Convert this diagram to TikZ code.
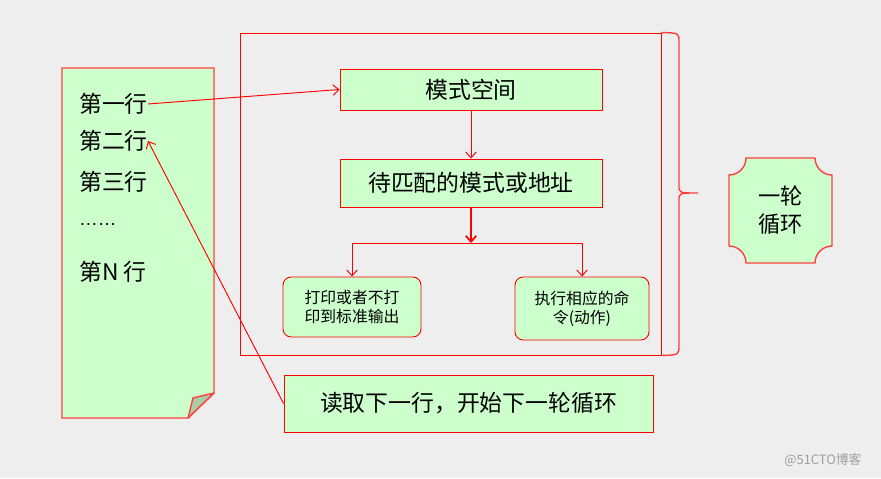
\documentclass[tikz,border=0pt]{standalone}
\usepackage{fontspec}
\setmainfont{Noto Sans CJK SC}
\newfontfamily\latinfont{Liberation Sans}
\usetikzlibrary{arrows.meta}
\definecolor{bgray}{HTML}{EEEEEE}
\definecolor{boxgreen}{HTML}{CCFFCC}
\definecolor{foldgreen}{HTML}{A9CDA5}
\definecolor{softred}{HTML}{FF4040}

\begin{document}
\begin{tikzpicture}[x=0.03cm, y=0.03cm, font=\fontsize{19.5}{24}\selectfont,
  box/.style={draw=red, fill=boxgreen, line width=0.8pt, inner sep=0pt},
  arr/.style={red, line width=0.8pt, -{Straight Barb[length=5pt, width=9pt]}},
  textline/.style={anchor=west, inner sep=0pt}]
  \fill[bgray] (0,0) rectangle (881,-478);
  \useasboundingbox (0,0) rectangle (881,-478);
  \draw[softred, fill=boxgreen, line width=1.2pt] (62,-68) -- (214,-68) -- (214,-393) -- (188,-418) -- (62,-418) -- cycle;
  \draw[softred, fill=foldgreen, line width=1.2pt, line join=round] (214,-393) -- (193,-398) -- (188,-418) -- cycle;
  \node[textline] (l1) at (79,-104) {第一行};
  \node[textline] (l2) at (79,-141) {第二行};
  \node[textline] (l3) at (79,-182) {第三行};
  \node[textline, font=\latinfont\fontsize{16}{20}\selectfont] (l4) at (79,-224) {……};
  \node[textline] (l5) at (79,-272) {第N 行};
  \node[draw=red, line width=0.8pt, minimum width=12.63cm, minimum height=9.66cm] (loop) at (450.5,-194) {};
  \node[box, minimum width=7.86cm, minimum height=1.23cm] (pat) at (471,-89.5) {模式空间};
  \node[box, minimum width=7.86cm, minimum height=1.44cm] (addr) at (471,-183) {待匹配的模式或地址};
  \node[box, rounded corners=7pt, minimum width=4.14cm, minimum height=1.8cm, align=center,
    font=\fontsize{13.5}{16}\selectfont] (prt) at (352,-307) {打印或者不打\\印到标准输出};
  \node[box, rounded corners=7pt, minimum width=4.02cm, minimum height=1.89cm, align=center,
    font=\fontsize{13.5}{16}\selectfont] (act) at (582,-308.5) {执行相应的命\\令(动作)};
  \node[box, minimum width=11.07cm, minimum height=1.71cm] (next) at (468.5,-403.5) {读取下一行，开始下一轮循环};
  \draw[softred, fill=boxgreen, line width=1.2pt] (746,-158) -- (815,-158) arc (180:270:17) -- (832,-246) arc (90:180:17)
    -- (746,-263) arc (0:90:17) -- (729,-175) arc (270:360:17) -- cycle;
  \node[align=center, font=\fontsize{19}{24}\selectfont] (cyc) at (780.5,-210.5) {一轮\\循环};
  \coordinate (split) at (471,-243);
  \draw[arr] (l1.east) -- (pat.west);
  \draw[arr] (pat) -- (addr);
  \draw[arr, line width=1.5pt] (addr) -- (split);
  \draw[arr] (split) -| (prt);
  \draw[arr] (split) -| (act);
  \draw[arr] (next.west) -- (l2.east);
  \draw[softred, line width=1.2pt] (loop.north east) .. controls (679,-33) .. (679,-42) -- (679,-186)
    .. controls (679,-193) .. (698,-193) .. controls (679,-193) .. (679,-200) -- (679,-345)
    .. controls (679,-355) .. (loop.south east);
  \node[text=gray!75, font=\fontsize{11}{13}\selectfont] (mark) at (823,-460) {@51CTO博客};
\end{tikzpicture}
\end{document}
